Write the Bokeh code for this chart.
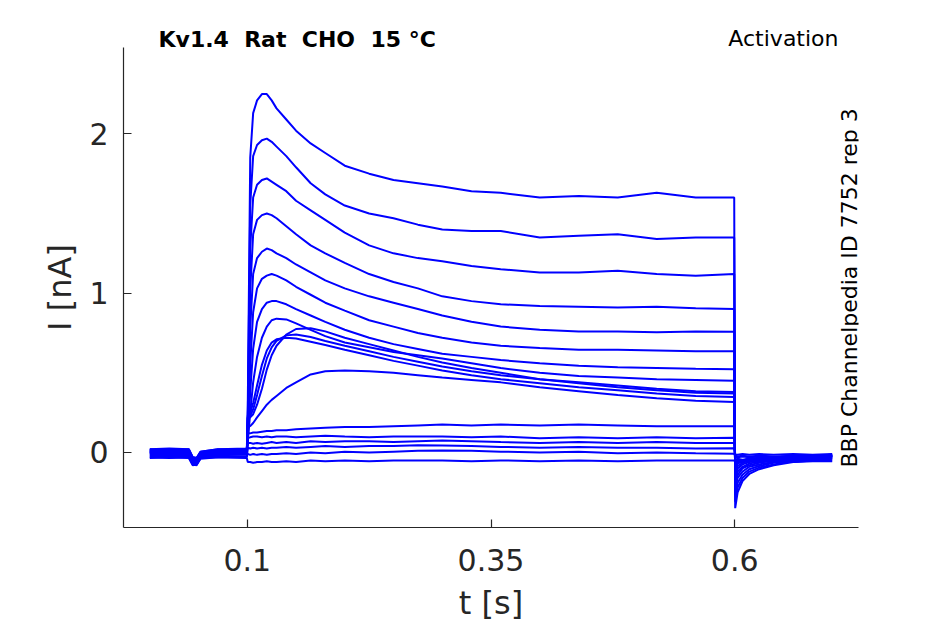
import math
from bokeh.plotting import figure
from bokeh.models import Label, FixedTicker, Range1d, Title
from bokeh.embed import file_html
from bokeh.resources import INLINE

# ---------------- data ----------------
# common time base [s]: holding, step (0.1 .. 0.6 s), tail
t_s = [0.000, 0.020, 0.040, 0.044, 0.048, 0.052, 0.070, 0.0995,
       0.1005, 0.103, 0.106, 0.110, 0.115, 0.120, 0.125, 0.130, 0.140, 0.150,
       0.165, 0.180, 0.200, 0.225, 0.250, 0.275, 0.300, 0.330, 0.360, 0.400,
       0.440, 0.480, 0.520, 0.560, 0.5995,
       0.6005, 0.603, 0.608, 0.615, 0.625, 0.640, 0.660, 0.680, 0.700]

# currents [nA], one list per sweep
i_a1 = [0.010, 0.005, 0.010, -0.040, -0.045, -0.005, 0.010, 0.010,
        0.30, 1.85, 2.13, 2.21, 2.25, 2.25, 2.21, 2.16, 2.09, 2.02,
        1.94, 1.88, 1.80, 1.75, 1.71, 1.69, 1.67, 1.64, 1.63, 1.60,
        1.61, 1.60, 1.63, 1.60, 1.60,
        -0.35, -0.25, -0.18, -0.135, -0.105, -0.080, -0.060, -0.050, -0.040]
i_a2 = [0.000, 0.010, 0.005, -0.045, -0.050, -0.010, 0.005, 0.005,
        0.22, 1.55, 1.86, 1.93, 1.96, 1.97, 1.95, 1.92, 1.86, 1.79,
        1.69, 1.62, 1.55, 1.50, 1.47, 1.43, 1.40, 1.39, 1.39, 1.35,
        1.36, 1.37, 1.34, 1.35, 1.35,
        -0.31, -0.22, -0.16, -0.120, -0.095, -0.075, -0.055, -0.045, -0.035]
i_a3 = [0.015, 0.010, 0.015, -0.035, -0.040, 0.000, 0.015, 0.010,
        0.18, 1.28, 1.60, 1.68, 1.71, 1.72, 1.70, 1.68, 1.64, 1.58,
        1.52, 1.46, 1.38, 1.30, 1.25, 1.22, 1.20, 1.17, 1.15, 1.13,
        1.13, 1.14, 1.12, 1.11, 1.12,
        -0.27, -0.19, -0.14, -0.105, -0.085, -0.065, -0.050, -0.040, -0.030]
i_a4 = [-0.010, -0.005, -0.010, -0.055, -0.060, -0.020, -0.005, -0.005,
        0.15, 1.02, 1.37, 1.46, 1.49, 1.50, 1.49, 1.47, 1.42, 1.37,
        1.30, 1.25, 1.19, 1.12, 1.07, 1.03, 0.98, 0.95, 0.93, 0.92,
        0.915, 0.91, 0.915, 0.905, 0.90,
        -0.23, -0.16, -0.12, -0.090, -0.075, -0.060, -0.045, -0.035, -0.030]
i_a5 = [0.005, 0.000, 0.005, -0.045, -0.055, -0.010, 0.000, 0.000,
        0.12, 0.78, 1.12, 1.22, 1.26, 1.28, 1.27, 1.25, 1.22, 1.18,
        1.13, 1.08, 1.03, 0.98, 0.94, 0.90, 0.86, 0.82, 0.79, 0.77,
        0.76, 0.76, 0.755, 0.76, 0.757,
        -0.20, -0.14, -0.10, -0.080, -0.065, -0.050, -0.040, -0.035, -0.025]
i_a6 = [0.020, 0.015, 0.020, -0.030, -0.035, 0.005, 0.020, 0.015,
        0.10, 0.55, 0.88, 1.03, 1.09, 1.11, 1.12, 1.11, 1.08, 1.04,
        0.99, 0.94, 0.89, 0.83, 0.79, 0.75, 0.72, 0.69, 0.67, 0.655,
        0.645, 0.645, 0.64, 0.635, 0.635,
        -0.17, -0.12, -0.09, -0.070, -0.055, -0.045, -0.035, -0.030, -0.020]
i_a7 = [-0.020, -0.015, -0.020, -0.065, -0.070, -0.025, -0.015, -0.015,
        0.08, 0.38, 0.65, 0.82, 0.90, 0.94, 0.95, 0.95, 0.93, 0.90,
        0.86, 0.82, 0.77, 0.72, 0.68, 0.65, 0.62, 0.60, 0.58, 0.56,
        0.545, 0.535, 0.53, 0.525, 0.522,
        -0.14, -0.10, -0.075, -0.060, -0.050, -0.040, -0.030, -0.025, -0.020]
i_a8 = [0.005, 0.010, 0.000, -0.050, -0.050, -0.015, 0.005, 0.000,
        0.07, 0.25, 0.44, 0.60, 0.72, 0.79, 0.83, 0.84, 0.835, 0.81,
        0.77, 0.73, 0.69, 0.66, 0.63, 0.61, 0.59, 0.56, 0.53, 0.50,
        0.48, 0.47, 0.46, 0.455, 0.45,
        -0.12, -0.085, -0.065, -0.050, -0.040, -0.035, -0.030, -0.020, -0.015]
i_b1 = [-0.005, 0.000, -0.005, -0.050, -0.060, -0.015, 0.000, -0.005,
        0.22, 0.22, 0.24, 0.30, 0.40, 0.52, 0.61, 0.67, 0.74, 0.775,
        0.78, 0.76, 0.72, 0.68, 0.64, 0.60, 0.565, 0.53, 0.50, 0.46,
        0.435, 0.41, 0.39, 0.375, 0.37,
        -0.10, -0.07, -0.055, -0.045, -0.035, -0.030, -0.025, -0.020, -0.015]
i_b2 = [0.010, 0.005, 0.010, -0.040, -0.045, -0.005, 0.010, 0.005,
        0.22, 0.23, 0.27, 0.36, 0.48, 0.59, 0.66, 0.70, 0.735, 0.74,
        0.725, 0.70, 0.67, 0.635, 0.60, 0.57, 0.54, 0.51, 0.485, 0.46,
        0.44, 0.42, 0.40, 0.385, 0.379,
        -0.09, -0.065, -0.050, -0.040, -0.035, -0.030, -0.025, -0.020, -0.020]
i_b3 = [-0.015, -0.010, -0.015, -0.060, -0.065, -0.020, -0.010, -0.010,
        0.23, 0.25, 0.31, 0.42, 0.55, 0.64, 0.69, 0.71, 0.72, 0.715,
        0.695, 0.675, 0.645, 0.61, 0.575, 0.545, 0.515, 0.485, 0.46, 0.435,
        0.41, 0.39, 0.37, 0.355, 0.348,
        -0.09, -0.065, -0.050, -0.045, -0.040, -0.035, -0.030, -0.025, -0.025]
i_s = [0.000, -0.005, 0.000, -0.050, -0.055, -0.010, 0.000, 0.000,
       0.17, 0.165, 0.185, 0.22, 0.26, 0.30, 0.33, 0.355, 0.405, 0.44,
       0.49, 0.51, 0.515, 0.51, 0.50, 0.485, 0.47, 0.455, 0.44, 0.41,
       0.385, 0.36, 0.34, 0.325, 0.316,
       -0.08, -0.060, -0.050, -0.040, -0.035, -0.030, -0.030, -0.025, -0.020]
i_c1 = [0.015, 0.020, 0.015, -0.035, -0.040, 0.000, 0.015, 0.020,
        0.12, 0.12, 0.125, 0.125, 0.13, 0.135, 0.135, 0.14, 0.14, 0.145,
        0.15, 0.155, 0.16, 0.16, 0.165, 0.17, 0.175, 0.17, 0.175, 0.17,
        0.175, 0.17, 0.165, 0.165, 0.164,
        -0.030, -0.030, -0.025, -0.030, -0.025, -0.030, -0.025, -0.030, -0.025]
i_c2 = [-0.025, -0.020, -0.025, -0.070, -0.075, -0.030, -0.020, -0.025,
        0.09, 0.095, 0.10, 0.10, 0.095, 0.10, 0.095, 0.10, 0.10, 0.095,
        0.10, 0.105, 0.10, 0.095, 0.10, 0.10, 0.10, 0.095, 0.10, 0.09,
        0.095, 0.09, 0.095, 0.09, 0.092,
        -0.045, -0.040, -0.045, -0.040, -0.045, -0.040, -0.045, -0.040, -0.040]
i_c3 = [0.020, 0.025, 0.020, -0.030, -0.035, 0.005, 0.020, 0.025,
        0.06, 0.06, 0.055, 0.06, 0.055, 0.06, 0.065, 0.06, 0.065, 0.06,
        0.07, 0.065, 0.07, 0.07, 0.065, 0.07, 0.075, 0.07, 0.065, 0.06,
        0.065, 0.06, 0.065, 0.06, 0.059,
        -0.010, -0.015, -0.010, -0.015, -0.010, -0.015, -0.010, -0.015, -0.010]
i_c4 = [-0.030, -0.035, -0.030, -0.075, -0.080, -0.035, -0.030, -0.030,
        0.03, 0.025, 0.03, 0.025, 0.03, 0.025, 0.03, 0.03, 0.035, 0.03,
        0.035, 0.04, 0.035, 0.04, 0.04, 0.045, 0.044, 0.04, 0.035, 0.03,
        0.035, 0.03, 0.03, 0.025, 0.027,
        -0.055, -0.050, -0.055, -0.050, -0.055, -0.050, -0.055, -0.050, -0.050]
i_c5 = [0.000, 0.005, 0.000, -0.045, -0.050, -0.010, 0.005, 0.000,
        -0.01, -0.015, -0.01, -0.015, -0.01, -0.015, -0.01, -0.01, -0.005, -0.01,
        0.0, -0.005, 0.005, 0.0, 0.005, 0.01, 0.013, 0.01, 0.005, 0.0,
        0.005, -0.005, 0.0, -0.005, -0.008,
        -0.020, -0.025, -0.020, -0.025, -0.020, -0.025, -0.020, -0.025, -0.020]
i_c6 = [-0.035, -0.030, -0.035, -0.080, -0.075, -0.040, -0.030, -0.035,
        -0.06, -0.06, -0.065, -0.06, -0.06, -0.055, -0.06, -0.06, -0.055, -0.06,
        -0.05, -0.055, -0.05, -0.055, -0.05, -0.05, -0.05, -0.055, -0.05, -0.055,
        -0.05, -0.055, -0.05, -0.05, -0.05,
        -0.060, -0.055, -0.060, -0.055, -0.060, -0.055, -0.060, -0.055, -0.055]

sweeps = [i_c6, i_c5, i_c4, i_c3, i_c2, i_c1, i_s, i_b3, i_b2, i_b1,
          i_a8, i_a7, i_a6, i_a5, i_a4, i_a3, i_a2, i_a1]

x_ticks = [0.1, 0.35, 0.6]
x_tick_labels = ["0.1", "0.35", "0.6"]
y_ticks = [0, 1, 2]
y_tick_labels = ["0", "1", "2"]

# double gaps kept visible in SVG with a no-break space
title_text = "Kv1.4 \u00a0Rat \u00a0CHO \u00a015 °C"
protocol_text = "Activation"
source_text = "BBP Channelpedia ID 7752 rep 3"
x_label = "t [s]"
y_label = "I [nA]"

# ---------------- figure ----------------
FONT = "DejaVu Sans"
INK = "#262626"

p = figure(width=945, height=624, output_backend="svg", toolbar_location=None,
           title=title_text,
           x_range=Range1d(-0.027, 0.727), y_range=Range1d(-0.471, 2.542),
           min_border_left=123, min_border_right=87,
           min_border_top=47, min_border_bottom=97)
p.outline_line_color = None
p.grid.visible = False
p.background_fill_color = "white"
p.border_fill_color = "white"

for ys in sweeps:
    p.line(t_s, ys, line_color="#0000ff", line_width=2)

for ax in (p.xaxis[0], p.yaxis[0]):
    ax.axis_line_color = INK
    ax.axis_line_width = 1.2
    ax.major_tick_line_color = INK
    ax.major_tick_line_width = 1.2
    ax.major_tick_in = 8
    ax.major_tick_out = 0
    ax.minor_tick_line_color = None
    ax.major_label_text_font = FONT
    ax.major_label_text_font_size = "30px"
    ax.major_label_text_color = INK
    ax.axis_label_text_font = FONT
    ax.axis_label_text_font_size = "32px"
    ax.axis_label_text_font_style = "normal"
    ax.axis_label_text_color = INK

p.xaxis.ticker = FixedTicker(ticks=x_ticks)
p.xaxis.major_label_overrides = dict(zip(x_ticks, x_tick_labels))
p.yaxis.ticker = FixedTicker(ticks=y_ticks)
p.yaxis.major_label_overrides = dict(zip(y_ticks, y_tick_labels))
p.xaxis.axis_label = x_label
p.yaxis.axis_label = y_label
p.xaxis.major_label_standoff = 21
p.xaxis.axis_label_standoff = 10
p.yaxis.major_label_standoff = 15
p.yaxis.axis_label_standoff = 7

# header texts (both on one line above the axes)
p.title.align = "left"
p.title.offset = 35
p.title.text_font = FONT
p.title.text_font_size = "22px"
p.title.text_font_style = "bold"
p.title.text_color = "black"
p.title.standoff = -50
p.add_layout(Title(text=protocol_text, align="right", offset=20,
                   text_font=FONT, text_font_size="22px",
                   text_font_style="normal", text_color="black",
                   standoff=-6), "above")

# vertical source note inside the axes (screen units from frame bottom-left)
p.add_layout(Label(x=726, y=60, x_units="screen", y_units="screen",
                   text=source_text, text_font=FONT, text_font_size="22px",
                   text_color="black", text_baseline="middle", text_align="left",
                   angle=math.pi / 2))

open("out.html", "w").write(file_html(p, INLINE))
